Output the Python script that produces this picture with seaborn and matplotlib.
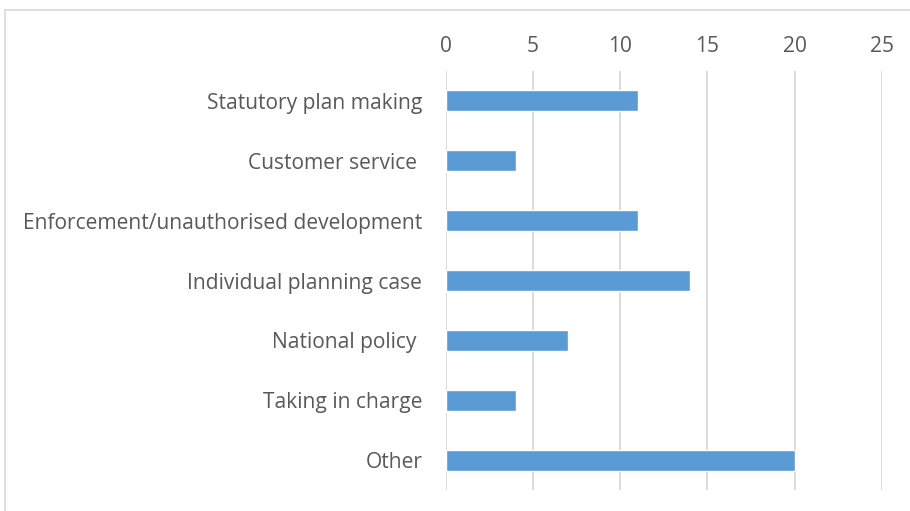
import pandas as pd
import matplotlib.pyplot as plt
import seaborn as sns
from matplotlib.lines import Line2D

###############################################################################

categories = [
    'Statutory plan making',
    'Customer service ',
    'Enforcement/unauthorised development',
    'Individual planning case',
    'National policy ',
    'Taking in charge',
    'Other',
]
counts = [11, 4, 11, 14, 7, 4, 20]
x_ticks = [0, 5, 10, 15, 20, 25]

BAR_COLOR = '#5B9BD5'
TEXT_COLOR = '#595959'
GRID_COLOR = '#D9D9D9'

###############################################################################

df = pd.DataFrame({'category': categories, 'count': counts})

sns.set_style('white')
plt.rcParams['font.family'] = ['Open Sans', 'DejaVu Sans']

fig = plt.figure(figsize=(9.1, 5.11), dpi=100)
ax = fig.add_axes([0.490, 0.041, 0.479, 0.820])

sns.barplot(data=df, x='count', y='category', color=BAR_COLOR,
            width=0.35, saturation=1, ax=ax)

ax.set_xlim(0, 25)
ax.set_ylim(len(categories) - 0.5, -0.5)
ax.set_xticks(x_ticks)
ax.xaxis.tick_top()
ax.set_xlabel('')
ax.set_ylabel('')
ax.tick_params(axis='both', length=0, labelsize=15.1, colors=TEXT_COLOR)
ax.tick_params(axis='x', pad=10)
ax.tick_params(axis='y', pad=17)

ax.grid(axis='x', color=GRID_COLOR, linewidth=1.3)
ax.set_axisbelow(True)
for spine in ax.spines.values():
    spine.set_visible(False)

# outer chart frame (left and top edges visible in the crop)
fig.add_artist(Line2D([5 / 910, 5 / 910], [0, 1 - 10 / 511],
                      transform=fig.transFigure, color=GRID_COLOR, lw=1.2))
fig.add_artist(Line2D([5 / 910, 1], [1 - 10 / 511, 1 - 10 / 511],
                      transform=fig.transFigure, color=GRID_COLOR, lw=1.2))

fig.savefig('out.png', dpi=100)
plt.close(fig)
